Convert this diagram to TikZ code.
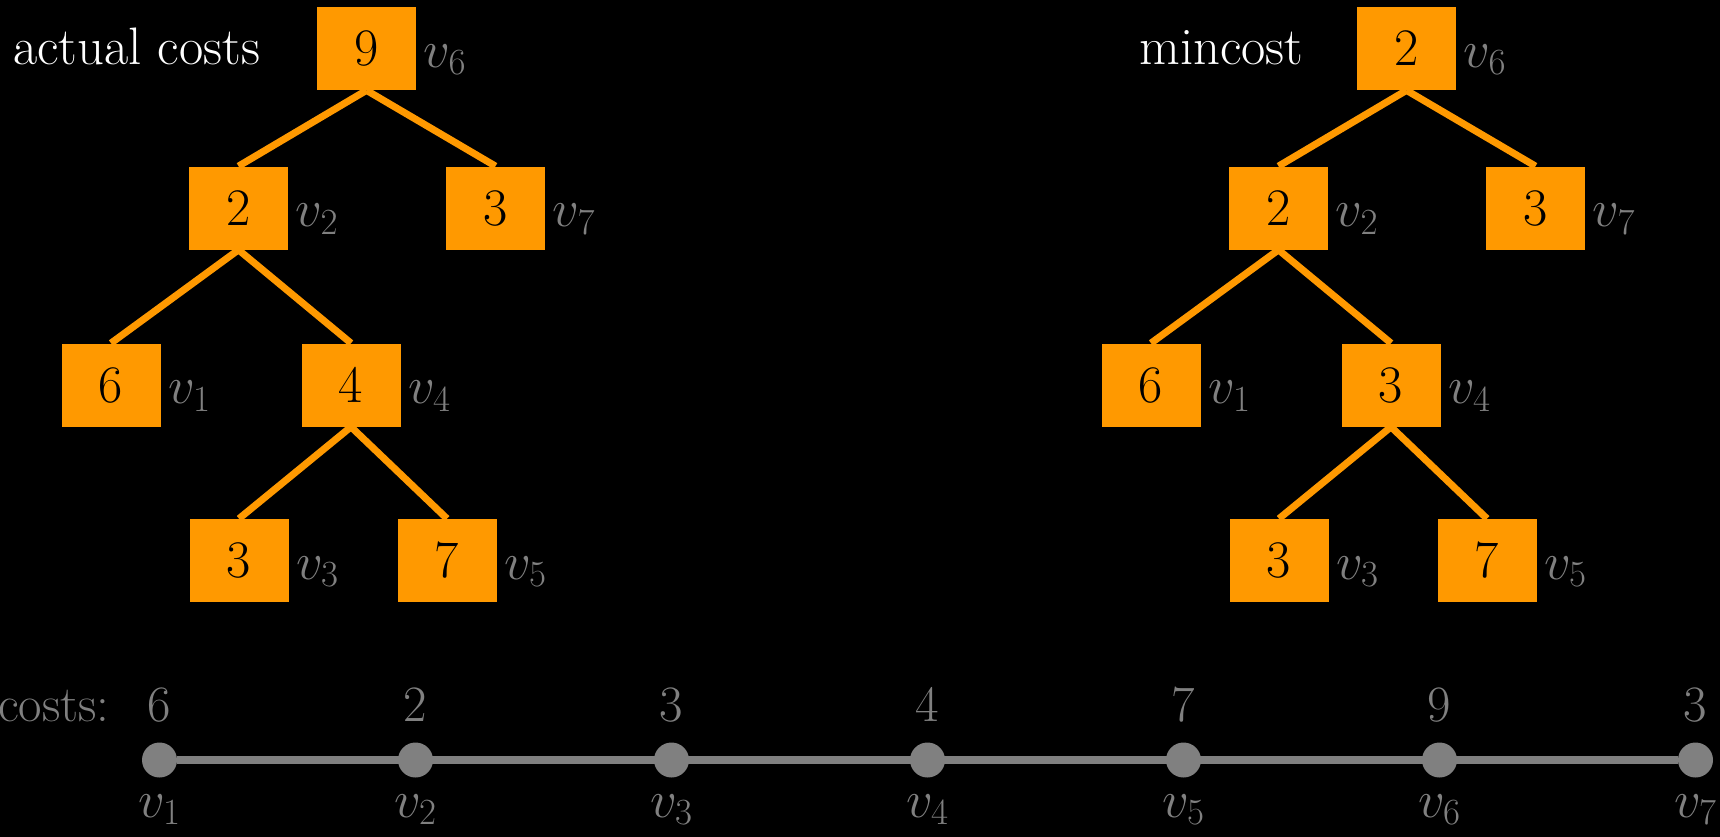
\RequirePackage{fix-cm}
\documentclass[tikz,border=0pt]{standalone}
\usepackage{fontspec}
\usepackage{xcolor}
\usetikzlibrary{positioning}
\definecolor{boxorange}{RGB}{255,153,0}
\definecolor{labelgray}{RGB}{128,128,128}

\begin{document}
\begin{tikzpicture}[
    box/.style={fill=boxorange, minimum width=1.98cm, minimum height=1.66cm, inner sep=0pt,
        font=\fontsize{30}{35}\selectfont},
    vlab/.style={anchor=base west, inner sep=0pt, text=labelgray, font=\fontsize{30}{35}\selectfont},
    title/.style={anchor=base west, inner sep=0pt, text=white, font=\fontsize{30}{35}\selectfont},
    edge/.style={boxorange, line width=4pt},
    dot/.style={circle, fill=labelgray, minimum size=0.7cm, inner sep=0pt},
    track/.style={labelgray, line width=4.5pt},
    costnum/.style={anchor=base, inner sep=0pt, text=labelgray, font=\fontsize{29}{34}\selectfont},
    costv/.style={anchor=base, inner sep=0pt, text=labelgray, font=\fontsize{30}{35}\selectfont}
]
    % background
    \fill[black] (0,0) rectangle (34.4,-16.74);
    \useasboundingbox (0,0) rectangle (34.4,-16.74);

    % 1. actual costs
    \node[title] (tact) at (0.26,-1.28) {actual costs};
    \node[box] (a6) at (7.33,-0.97) {9};
    \node[box] (a2) at (4.77,-4.16) {2};
    \node[box] (a7) at (9.91,-4.16) {3};
    \node[box] (a1) at (2.22,-7.70) {6};
    \node[box] (a4) at (7.02,-7.70) {4};
    \node[box] (a3) at (4.78,-11.21) {3};
    \node[box] (a5) at (8.94,-11.21) {7};

    % 2. mincost
    \node[title] (tmin) at (22.78,-1.28) {mincost};
    \node[box] (m6) at (28.13,-0.97) {2};
    \node[box] (m2) at (25.57,-4.16) {2};
    \node[box] (m7) at (30.71,-4.16) {3};
    \node[box] (m1) at (23.02,-7.70) {6};
    \node[box] (m4) at (27.82,-7.70) {3};
    \node[box] (m3) at (25.58,-11.21) {3};
    \node[box] (m5) at (29.74,-11.21) {7};

    % tree edges and vertex names
    \foreach \t in {a,m} {
        \foreach \p/\c in {6/2, 6/7, 2/1, 2/4, 4/3, 4/5} {
            \draw[edge] (\t\p.south) -- (\t\c.north);
        }
        \foreach \n in {1,...,7} {
            \node[vlab] (\t l\n) at ([xshift=0.14cm,yshift=-0.37cm]\t\n.east) {$v_\n$};
        }
    }

    % 3. the path with its costs
    \node[costnum, anchor=base east] (costs) at (2.2,-14.42) {costs:};
    \foreach \n/\c in {1/6, 2/2, 3/3, 4/4, 5/7, 6/9, 7/3} {
        \node[dot] (d\n) at ({3.19+5.12*(\n-1)},-15.2) {};
        \node[costnum] (c\n) at ([yshift=0.78cm]d\n.center) {\c};
        \node[costv] (v\n) at ([yshift=-1.14cm]d\n.center) {$v_\n$};
    }
    \draw[track] (d1) -- (d7);
\end{tikzpicture}
\end{document}
